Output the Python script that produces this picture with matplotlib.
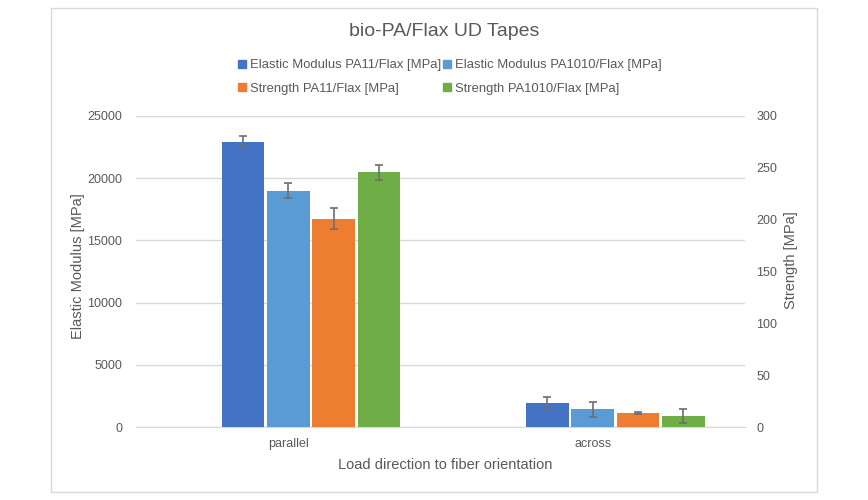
import matplotlib.pyplot as plt
import numpy as np
from matplotlib.patches import Rectangle, Patch

plt.rcParams['font.family'] = ['Liberation Sans', 'DejaVu Sans']

categories = ['parallel', 'across']
em_pa11 = [22950, 1900]
em_pa11_err = [480, 500]
em_pa1010 = [19000, 1420]
em_pa1010_err = [600, 590]
str_pa11 = [201, 13.5]
str_pa11_err = [10, 0.8]
str_pa1010 = [245.5, 10.3]
str_pa1010_err = [7, 6.8]

c_blue = '#4472C4'
c_lblue = '#5B9BD5'
c_orange = '#ED7D31'
c_green = '#70AD47'
c_text = '#595959'
c_grid = '#D9D9D9'

fig = plt.figure(figsize=(8.68, 5), dpi=100)
fig.patches.append(Rectangle((51 / 868, 8 / 500), 766 / 868, 484 / 500,
                             transform=fig.transFigure, fill=False,
                             edgecolor='#D9D9D9', linewidth=1))

ax = fig.add_axes([136 / 868, 1 - 427 / 500, 609 / 868, 311 / 500])
ax2 = ax.twinx()

x = np.arange(len(categories))
w = 0.14
step = 0.149
err_kw = dict(ecolor='#6E6E6E', capsize=3, elinewidth=1.2, capthick=1.2)

ax.bar(x - step, em_pa11, w, yerr=em_pa11_err, color=c_blue, error_kw=err_kw, zorder=3)
ax.bar(x, em_pa1010, w, yerr=em_pa1010_err, color=c_lblue, error_kw=err_kw, zorder=3)
ax2.bar(x + step, str_pa11, w, yerr=str_pa11_err, color=c_orange, error_kw=err_kw, zorder=3)
ax2.bar(x + 2 * step, str_pa1010, w, yerr=str_pa1010_err, color=c_green, error_kw=err_kw, zorder=3)

ax.set_xlim(-0.5, 1.5)
ax.set_ylim(0, 25000)
ax2.set_ylim(0, 300)
ax.set_yticks(np.arange(0, 25001, 5000))
ax2.set_yticks(np.arange(0, 301, 50))
ax.set_xticks(x)
ax.set_xticklabels(categories)

ax.grid(axis='y', color=c_grid, linewidth=1, zorder=0)
ax.set_axisbelow(True)
for a in (ax, ax2):
    for s in a.spines.values():
        s.set_visible(False)
    a.tick_params(length=0, labelsize=9, colors=c_text)
ax.spines['bottom'].set_visible(True)
ax.spines['bottom'].set_color(c_grid)
ax.tick_params(axis='y', pad=10)
ax2.tick_params(axis='y', pad=8)
ax.tick_params(axis='x', pad=8)

# axis titles placed like the Excel chart
fig.text(78 / 868, 1 - 266 / 500, 'Elastic Modulus [MPa]', rotation=90,
         ha='center', va='center', fontsize=10.5, color=c_text)
fig.text(791 / 868, 1 - 260 / 500, 'Strength [MPa]', rotation=90,
         ha='center', va='center', fontsize=10.5, color=c_text)
fig.text(445 / 868, 1 - 465 / 500, 'Load direction to fiber orientation',
         ha='center', va='center', fontsize=10.5, color=c_text)

fig.text(444 / 868, 1 - 31 / 500, 'bio-PA/Flax UD Tapes', ha='center', va='center',
         fontsize=14, color=c_text)

handles = [Patch(color=c_blue), Patch(color=c_orange),
           Patch(color=c_lblue), Patch(color=c_green)]
labels = ['Elastic Modulus PA11/Flax [MPa]', 'Strength PA11/Flax [MPa]',
          'Elastic Modulus PA1010/Flax [MPa]', 'Strength PA1010/Flax [MPa]']
fig.legend(handles, labels, loc='center', bbox_to_anchor=(450 / 868, 1 - 77 / 500),
           ncol=2, frameon=False, fontsize=9.4, labelcolor=c_text,
           handlelength=0.6, handleheight=0.6, handletextpad=0.3,
           columnspacing=0.15, labelspacing=0.85)

fig.savefig('out.png', dpi=100)
